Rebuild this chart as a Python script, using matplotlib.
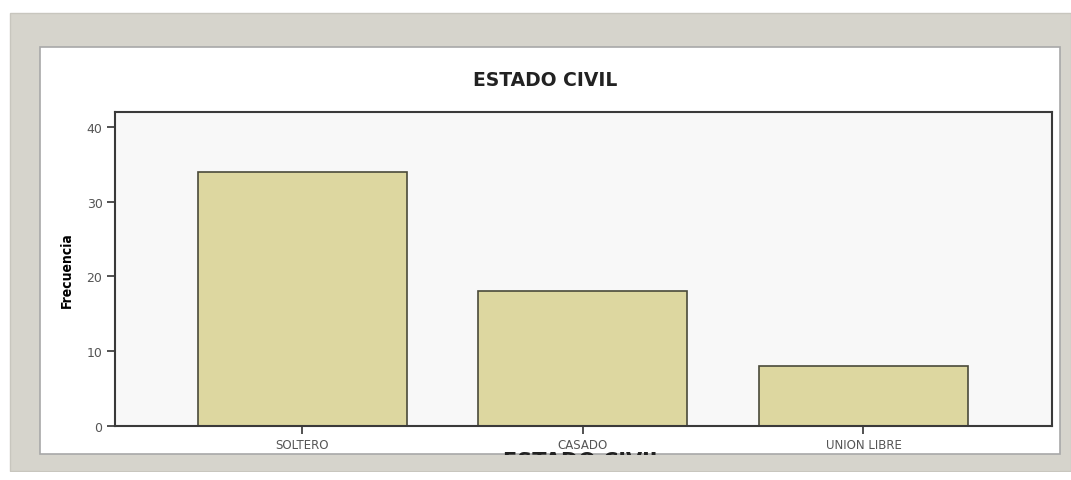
import matplotlib.pyplot as plt
from matplotlib.patches import Rectangle

# data
categorias = ["SOLTERO", "CASADO", "UNION LIBRE"]
frecuencias = [34, 18, 8]
y_ticks = [0, 10, 20, 30, 40]

W, H = 1071, 481
fig = plt.figure(figsize=(W / 100, H / 100), dpi=100)
fig.patch.set_facecolor("white")

# gray frame and white inner panel (figure pixel coords, y from top)
def px_rect(x0, y0, x1, y1, **kw):
    return Rectangle((x0 / W, 1 - y1 / H), (x1 - x0) / W, (y1 - y0) / H,
                     transform=fig.transFigure, **kw)

fig.patches.append(px_rect(10, 14, 1071, 472, facecolor="#d6d4cc", edgecolor="#c8c6be", lw=1, zorder=-3))
fig.patches.append(px_rect(40, 48, 1060, 455, facecolor="white", edgecolor="#a8a8a8", lw=1.2, zorder=-2))

ax = fig.add_axes([115 / W, 1 - 427 / H, (1052 - 115) / W, (427 - 113) / H])
ax.set_facecolor("#f8f8f8")

x = range(len(categorias))
ax.bar(x, frecuencias, width=0.745, color="#ddd7a0", edgecolor="#4a4a3a", linewidth=1.2, zorder=2)

ax.set_xlim(-0.668, 2.672)
ax.set_ylim(0, 42)
ax.set_xticks(list(x))
ax.set_xticklabels(categorias, fontsize=8.5, color="#555555")
ax.set_yticks(y_ticks)
ax.set_yticklabels([str(v) for v in y_ticks], fontsize=9, color="#555555")
ax.tick_params(axis="both", length=6, width=1.2, color="#333333", pad=3)
for s in ax.spines.values():
    s.set_color("#3a3a3a")
    s.set_linewidth(1.5)

ax.set_ylabel("Frecuencia", fontstretch="condensed",
              fontweight="bold", fontsize=10, labelpad=9)

fig.text(545 / W, 1 - 80 / H, "ESTADO CIVIL", ha="center", va="center",
         fontsize=13.5, fontweight="bold", color="#222222")

# axis title, mostly hidden under the frame
fig.text(583 / W, 1 - 452 / H, "ESTADO CIVIL", ha="center", va="top",
         fontsize=15, fontweight="bold", color="#222222", zorder=4)
fig.patches.append(px_rect(40, 455.5, 1060, 472, facecolor="#d6d4cc", edgecolor="none", zorder=5))
fig.patches.append(px_rect(0, 472.5, 1071, 481, facecolor="white", edgecolor="none", zorder=5))

fig.savefig("out.png", dpi=100)
